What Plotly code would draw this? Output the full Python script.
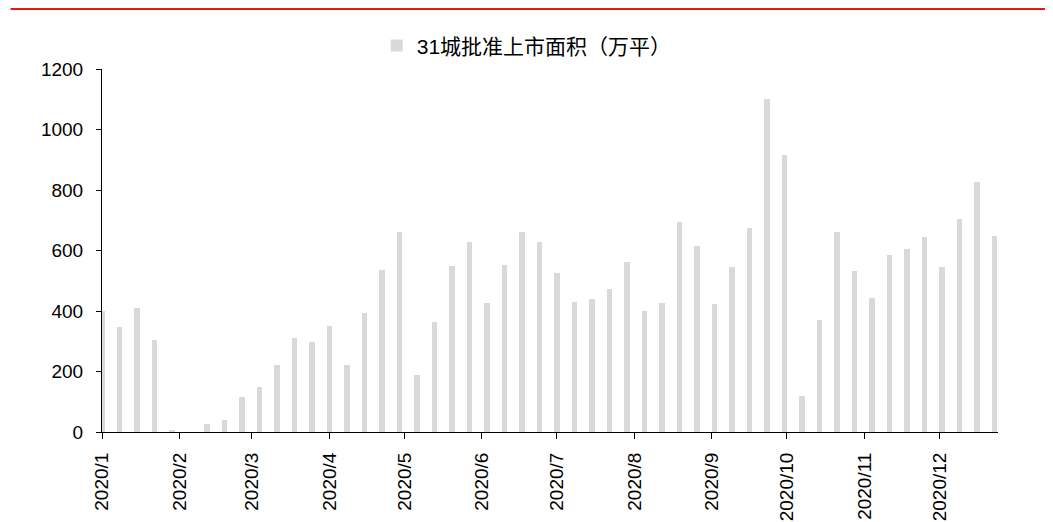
import pandas as pd
import plotly.graph_objects as go

# weekly approvals, 31 cities (10k sqm), one bar per week starting 2020-01-01
week_start = "2020-01-01"
n_weeks = 52
approved_area = [400, 348, 410, 303, 6, 0, 28, 41, 116, 150, 222, 312, 298, 351,
                 220, 392, 535, 661, 190, 364, 549, 629, 425, 552, 661, 627,
                 527, 429, 439, 474, 562, 400, 428, 693, 614, 424, 545, 673,
                 1100, 916, 119, 369, 662, 532, 443, 586, 605, 645, 544, 703,
                 825, 649]

month_ticks = ["2020-01-01", "2020-02-01", "2020-03-01", "2020-04-01", "2020-05-01",
               "2020-06-01", "2020-07-01", "2020-08-01", "2020-09-01", "2020-10-01",
               "2020-11-01", "2020-12-01"]
month_labels = ["2020/1", "2020/2", "2020/3", "2020/4", "2020/5", "2020/6",
                "2020/7", "2020/8", "2020/9", "2020/10", "2020/11", "2020/12"]

y_ticks = [0, 200, 400, 600, 800, 1000, 1200]

series_name = "31城批准上市面积（万平）"

weeks = pd.date_range(week_start, periods=n_weeks, freq="7D")

FONT = "Liberation Sans, Arial, Noto Sans CJK SC"
DAY_MS = 86400000

fig = go.Figure()

fig.add_trace(go.Bar(
    x=weeks,
    y=approved_area,
    name=series_name,
    width=2.3 * DAY_MS,
    marker=dict(color="#D9D9D9", line_width=0),
))

# page body has an 8px margin, so the figure is a bit smaller than the window
fig.update_layout(
    width=1045, height=514, autosize=False,
    margin=dict(l=94, r=55, t=61, b=90, autoexpand=False),
    plot_bgcolor="white",
    paper_bgcolor="white",
    font=dict(family=FONT, size=19, color="black"),
    showlegend=True,
    legend=dict(
        orientation="h",
        x=0.474, xanchor="center",
        y=1.064, yanchor="middle",
        font=dict(size=21, family=FONT),
        itemwidth=30,
        bgcolor="rgba(0,0,0,0)",
    ),
    bargap=0,
)

fig.update_xaxes(
    type="date",
    range=["2020-01-01", "2020-12-24 10:00"],
    tickvals=month_ticks,
    ticktext=month_labels,
    tickangle=-90,
    ticks="outside", ticklen=6, tickcolor="black",
    showline=True, linecolor="black", linewidth=1,
    showgrid=False, zeroline=False,
    ticklabelstandoff=6,
    automargin=False,
)

fig.update_yaxes(
    range=[0, 1200],
    tickvals=y_ticks,
    ticks="outside", ticklen=5, tickcolor="black",
    showline=True, linecolor="black", linewidth=1,
    showgrid=False, zeroline=False,
    ticklabelstandoff=9,
    automargin=False,
)

# red rule across the top of the page
fig.add_shape(type="line", xref="paper", yref="paper",
              x0=-0.102, x1=1.0555, y0=1.166, y1=1.166,
              line=dict(color="#E31B0E", width=2.5))

fig.write_html("out.html")
